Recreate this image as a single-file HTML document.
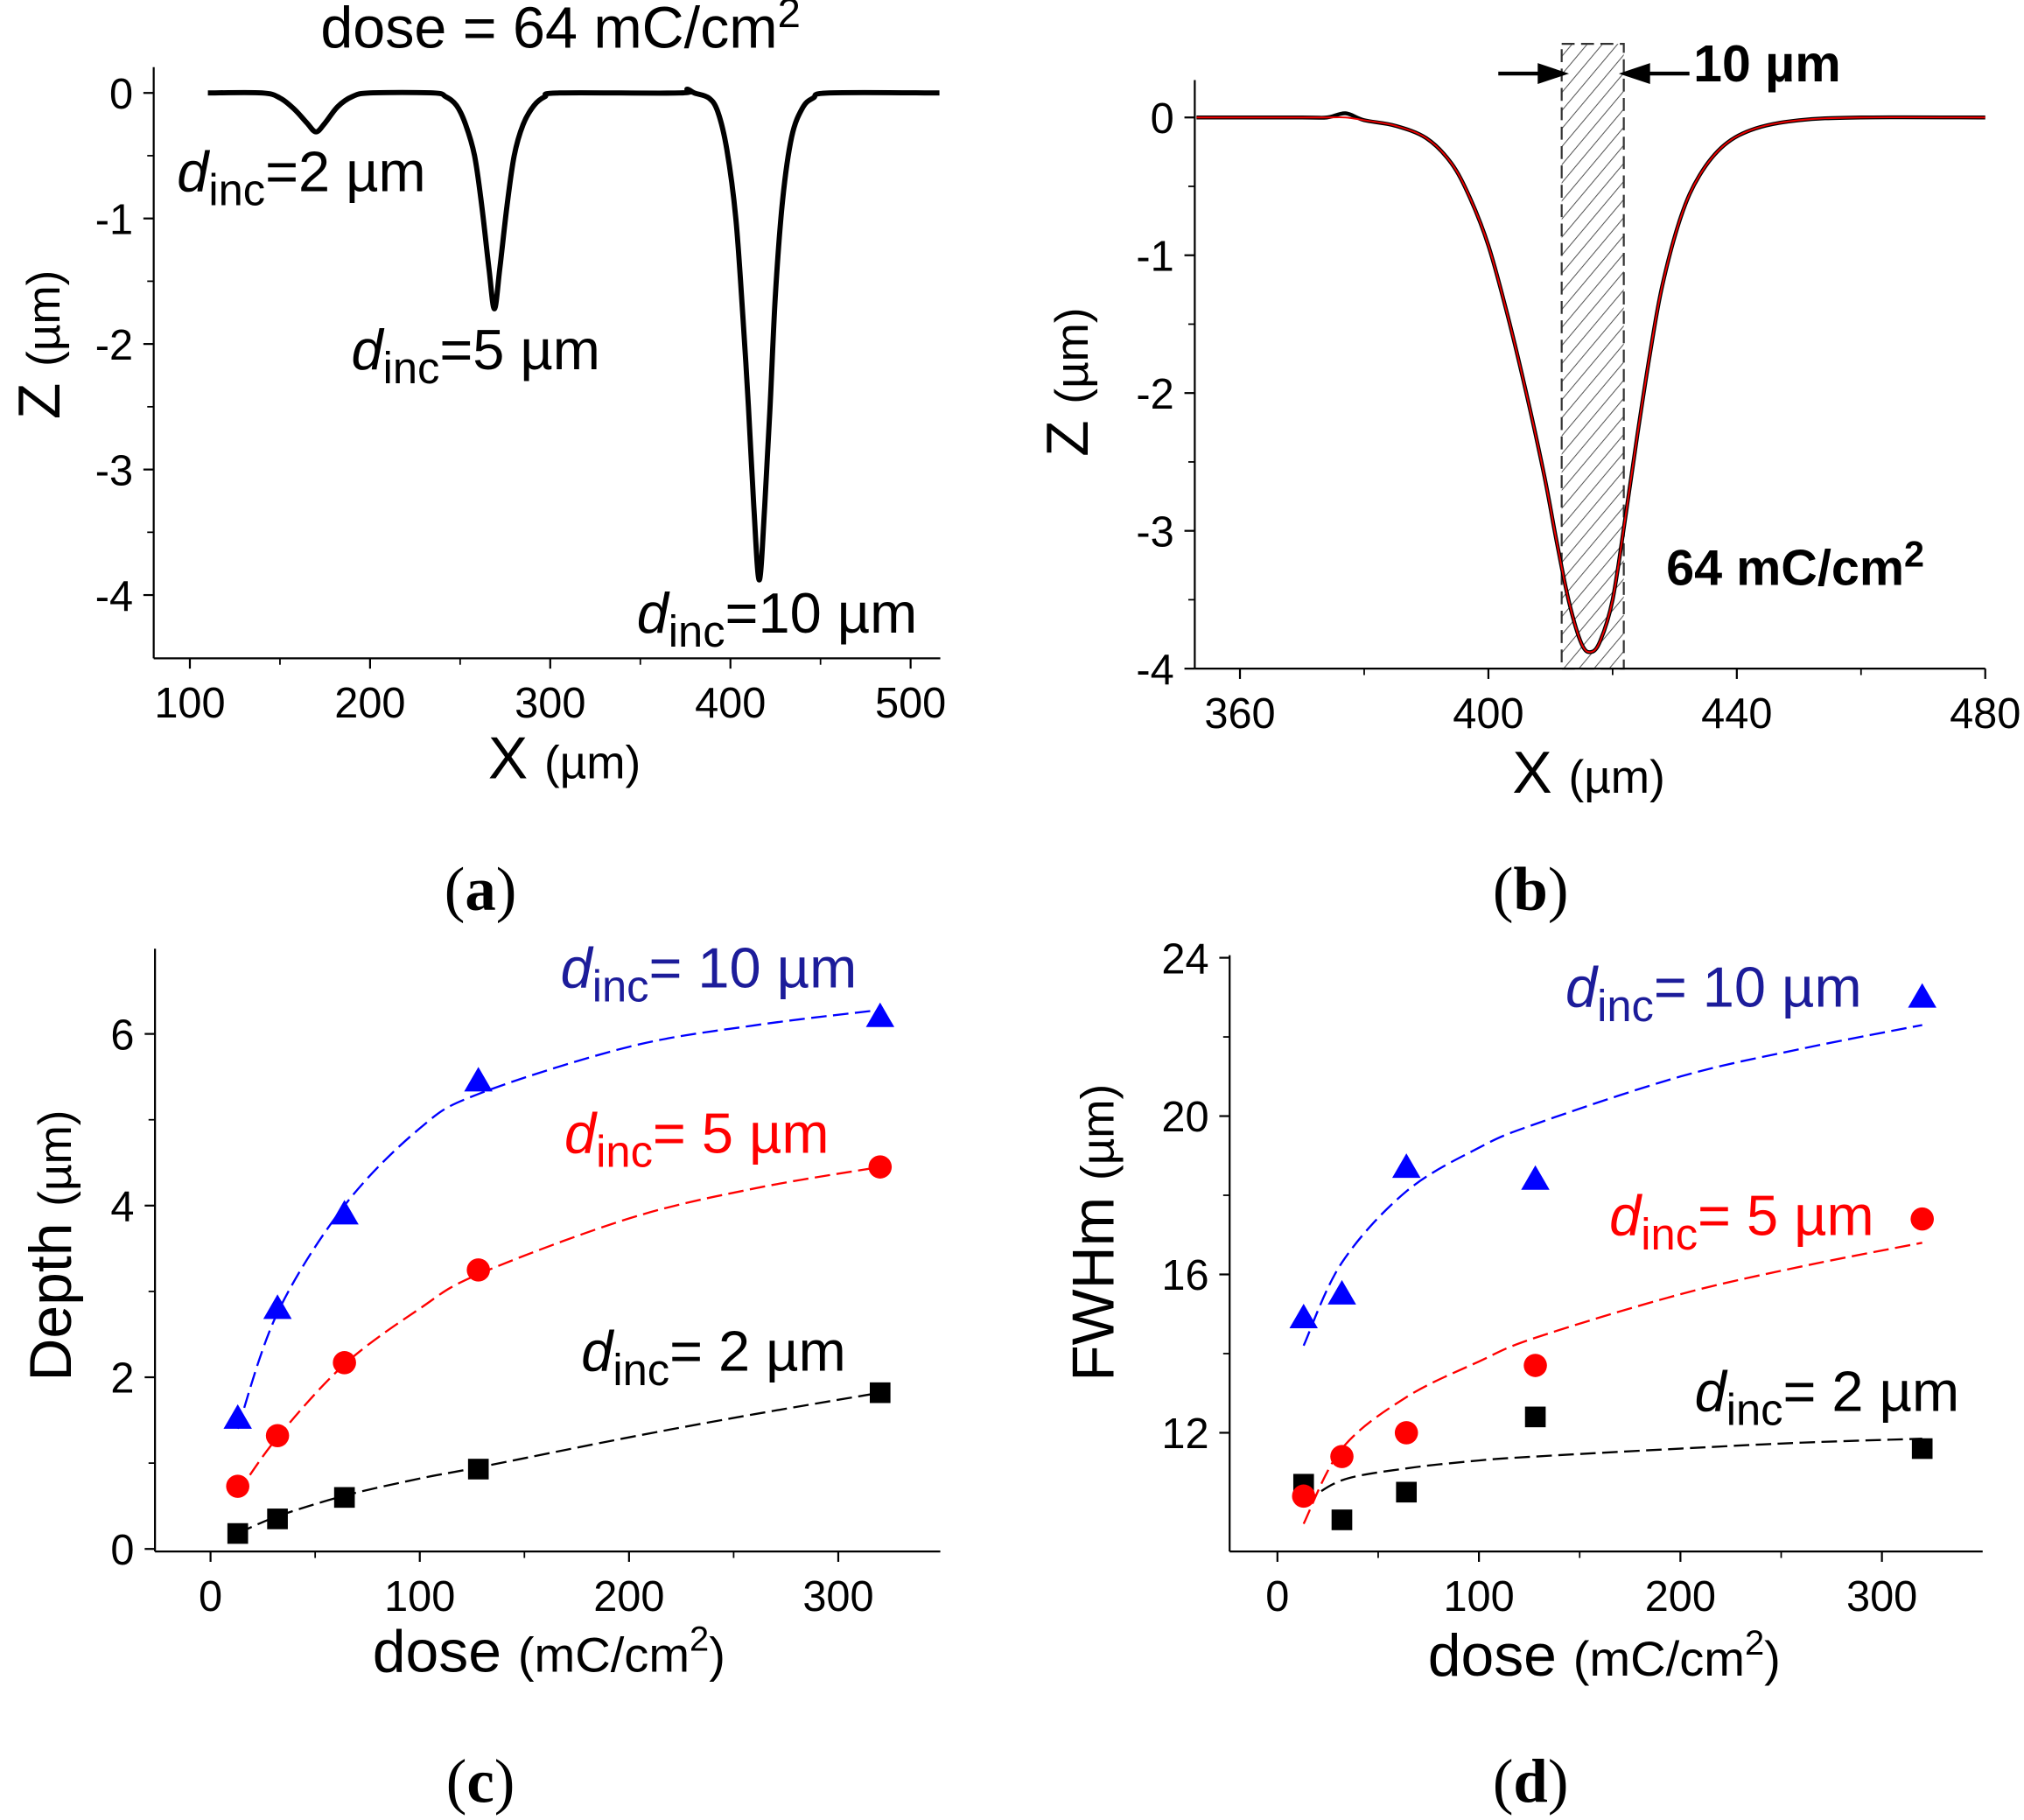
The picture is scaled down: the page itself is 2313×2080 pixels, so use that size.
<!DOCTYPE html>
<html><head><meta charset="utf-8"><style>
html,body{margin:0;padding:0;background:#fff;}
svg{display:block;font-family:"Liberation Sans",Arial,sans-serif;}
</style></head><body>
<svg id="fig" xmlns="http://www.w3.org/2000/svg" width="2313" height="2080" viewBox="0 0 1567 1410" preserveAspectRatio="none">
<defs>
<pattern id="hatch" patternUnits="userSpaceOnUse" width="9" height="9" patternTransform="rotate(40)">
<line x1="0" y1="0" x2="0" y2="9" stroke="#555" stroke-width="1.4"/>
</pattern>
</defs>
</svg>
<script>
// ---------- panel (a) profile ----------
const aX = [110,140,150,158,165,170,175,182,190,200,235,242,248,253,258,262,266,269,272,276,280,285,291,297,305,372,376,380,388,393,398,403,407,410,413,416,419,422,425,429,434,440,446,455,516];
const aZ = [0,0,-0.04,-0.13,-0.24,-0.31,-0.24,-0.11,-0.03,0,0,-0.03,-0.1,-0.25,-0.5,-0.9,-1.4,-1.72,-1.4,-0.9,-0.5,-0.25,-0.1,-0.03,0,0,0.03,0,-0.04,-0.15,-0.45,-1.0,-1.8,-2.5,-3.3,-3.88,-3.3,-2.5,-1.6,-0.85,-0.35,-0.12,-0.04,0,0];
// ---------- panel (b) profile ----------
const bX = [353,370,374,377,380,385,390,394,397,400,403,406,409,411,413,415,416.5,418,420,422,424,426,428,431,434,438,443,450,460,480];
const bZ = [0,0,0,0.03,-0.02,-0.06,-0.15,-0.33,-0.58,-0.93,-1.42,-1.98,-2.6,-3.08,-3.52,-3.82,-3.88,-3.8,-3.5,-2.92,-2.3,-1.72,-1.22,-0.72,-0.42,-0.2,-0.08,-0.02,0,0];
const bFitZ = [0,0,0,0,-0.02,-0.06,-0.15,-0.33,-0.58,-0.93,-1.42,-1.98,-2.6,-3.08,-3.52,-3.82,-3.88,-3.8,-3.5,-2.92,-2.3,-1.72,-1.22,-0.72,-0.42,-0.2,-0.08,-0.02,0,0];
// ---------- panels (c),(d) ----------
const doses = [13,32,64,128,320];
const depth2 = [0.18,0.35,0.6,0.93,1.82];
const depth5 = [0.73,1.32,2.17,3.25,4.45];
const depth10 = [1.52,2.8,3.9,5.45,6.2];
const fitDoses = [13,32,64,100,128,200,260,320];
const depthFit2 = [0.18,0.38,0.62,0.82,0.95,1.3,1.57,1.82];
const depthFit5 = [0.65,1.3,2.15,2.8,3.2,3.85,4.2,4.45];
const depthFit10 = [1.4,2.75,4.0,4.9,5.3,5.85,6.1,6.28];
const fwhm2 = [10.7,9.8,10.5,12.4,11.6];
const fwhm5 = [10.4,11.4,12.0,13.7,17.4];
const fwhm10 = [14.9,15.5,18.7,18.4,23.0];
const fwhmFit2 = [10.2,10.8,11.1,11.3,11.4,11.6,11.75,11.85];
const fwhmFit5 = [9.7,11.6,12.9,13.8,14.4,15.5,16.2,16.8];
const fwhmFit10 = [14.2,16.3,18.1,19.2,19.8,21.0,21.7,22.3];
const aXTicks = [100,200,300,400,500];
const aYTicks = [0,-1,-2,-3,-4];
const bXTicks = [360,400,440,480];
const bYTicks = [0,-1,-2,-3,-4];
const cXTicks = [0,100,200,300];
const cYTicks = [0,2,4,6];
const dXTicks = [0,100,200,300];
const dYTicks = [12,16,20,24];

const svg = document.getElementById('fig');
const NS = 'http://www.w3.org/2000/svg';
function mk(tag, attrs, parent) {
  const el = document.createElementNS(NS, tag);
  for (const k in attrs) el.setAttribute(k, attrs[k]);
  (parent || svg).appendChild(el);
  return el;
}
function scale(d0, d1, p0, p1) { return v => p0 + (v - d0) * (p1 - p0) / (d1 - d0); }

function axes(P, name) {
  const g = mk('g', {});
  
  
  const yl = mk('line', {x1:P.left, y1:P.top, x2:P.left, y2:P.bottom, stroke:'#000', 'stroke-width':1.5}, g);
  
  
  const xl = mk('line', {x1:P.left, y1:P.bottom, x2:P.right, y2:P.bottom, stroke:'#000', 'stroke-width':1.5}, g);
  
  
  P.xt.forEach((v, i) => {
    const x = P.sx(v);
    mk('line', {x1:x, y1:P.bottom, x2:x, y2:P.bottom + 8, stroke:'#000', 'stroke-width':1.5}, g);
    const t = mk('text', {x:x, y:P.bottom + 46, 'font-size':33, 'text-anchor':'middle'}, g);
    t.textContent = v;
    
    
    if (i < P.xt.length - 1) {
      const xm = P.sx((v + P.xt[i+1]) / 2);
      mk('line', {x1:xm, y1:P.bottom, x2:xm, y2:P.bottom + 5, stroke:'#000', 'stroke-width':1.2}, g);
    }
  });
  P.yt.forEach((v, i) => {
    const y = P.sy(v);
    mk('line', {x1:P.left - 8, y1:y, x2:P.left, y2:y, stroke:'#000', 'stroke-width':1.5}, g);
    const t = mk('text', {x:P.left - 16, y:y + 12, 'font-size':33, 'text-anchor':'end'}, g);
    t.textContent = v;
    
    
    if (i < P.yt.length - 1) {
      const ym = P.sy((v + P.yt[i+1]) / 2);
      if (ym < P.bottom) mk('line', {x1:P.left - 5, y1:ym, x2:P.left, y2:ym, stroke:'#000', 'stroke-width':1.2}, g);
    }
  });
}
function smoothPath(xs, ys, sx, sy) {
  const p = xs.map((x, i) => [sx(x), sy(ys[i])]);
  let d = 'M' + p[0][0] + ',' + p[0][1];
  for (let i = 0; i < p.length - 1; i++) {
    const p0 = p[i-1] || p[i], p1 = p[i], p2 = p[i+1], p3 = p[i+2] || p2;
    const c1 = [p1[0] + (p2[0]-p0[0])/6, p1[1] + (p2[1]-p0[1])/6];
    const c2 = [p2[0] - (p3[0]-p1[0])/6, p2[1] - (p3[1]-p1[1])/6];
    d += ' C' + c1.join(',') + ' ' + c2.join(',') + ' ' + p2.join(',');
  }
  return d;
}
function label(x, y, rest, color, size, name) {
  const t = mk('text', {x:x, y:y, 'font-size':size, fill:color});
  t.innerHTML = '<tspan font-style="italic">d</tspan><tspan dy="11" font-size="' + (size*0.78) + '">inc</tspan><tspan dy="-11">' + rest + '</tspan>';
  
  
}
function ytitle(x, y, big, small, name) {
  const t = mk('text', {x:0, y:0, 'font-size':46, 'text-anchor':'middle', transform:'translate(' + x + ',' + y + ') rotate(-90)'});
  t.innerHTML = big + ' <tspan font-size="36">' + small + '</tspan>';
  
  
}
function xtitle(x, y, html, name) {
  const t = mk('text', {x:x, y:y, 'font-size':46, 'text-anchor':'middle'});
  t.innerHTML = html;
  
  
}
function panelLabel(x, y, ch, name) {
  const t = mk('text', {x:x, y:y, 'font-size':48, 'text-anchor':'middle', 'font-family':'"Liberation Serif",serif'});
  t.innerHTML = '(<tspan font-weight="bold">' + ch + '</tspan>)';
  
  
}
const XT = 'X <tspan font-size="36">(µm)</tspan>';
const DT = 'dose <tspan font-size="38">(mC/cm<tspan dy="-16" font-size="27">2</tspan><tspan dy="16">)</tspan></tspan>';

// ===== Panel A =====
const A = {left:119, right:728, top:52, bottom:510, xt:aXTicks, yt:aYTicks};
A.sx = scale(100, 500, 147, 705); A.sy = scale(0, -4, 72, 461);
axes(A, 'panel-a');
const pa = mk('path', {d:smoothPath(aX, aZ, A.sx, A.sy), fill:'none', stroke:'#000', 'stroke-width':4, 'stroke-linejoin':'round'});


const ta = mk('text', {x:434, y:37, 'font-size':45, 'text-anchor':'middle'});
ta.innerHTML = 'dose = 64 mC/cm<tspan dy="-16" font-size="32">2</tspan>';


label(137, 148, '=2 µm', '#000', 44, 'label-dinc-2um-a');
label(272, 286, '=5 µm', '#000', 44, 'label-dinc-5um-a');
label(493, 490, '=10 µm', '#000', 44, 'label-dinc-10um-a');
ytitle(46, 267, 'Z', '(µm)', 'panel-a-y-axis-title');
xtitle(437, 603, XT, 'panel-a-x-axis-title');
panelLabel(372, 705, 'a', 'panel-a-label');

// ===== Panel B =====
const B = {left:925, right:1537, top:62, bottom:518, xt:bXTicks, yt:bYTicks};
B.sx = scale(360, 480, 960, 1537); B.sy = scale(0, -4, 91, 518);
const hr = mk('rect', {x:B.sx(411.8), y:34, width:B.sx(421.8)-B.sx(411.8), height:518-34, fill:'url(#hatch)', stroke:'#333', 'stroke-width':1.5, 'stroke-dasharray':'10,5'});


axes(B, 'panel-b');
const pb = mk('path', {d:smoothPath(bX, bZ, B.sx, B.sy), fill:'none', stroke:'#000', 'stroke-width':3, 'stroke-linejoin':'round'});


const pbf = mk('path', {d:smoothPath(bX, bFitZ, B.sx, B.sy), fill:'none', stroke:'#e00', 'stroke-width':1.3});


const arL = mk('path', {d:'M1160,57 L1196,57 M1210,57 L1192,51 L1192,63 Z', stroke:'#000', 'stroke-width':3, fill:'#000'});


const arR = mk('path', {d:'M1308,57 L1272,57 M1258,57 L1276,51 L1276,63 Z', stroke:'#000', 'stroke-width':3, fill:'#000'});


const tb1 = mk('text', {x:1311, y:63, 'font-size':40, 'font-weight':'bold'});
tb1.textContent = '10 µm';


const tb2 = mk('text', {x:1290, y:453, 'font-size':39, 'font-weight':'bold'});
tb2.innerHTML = '64 mC/cm<tspan dy="-14" font-size="28">2</tspan>';


ytitle(842, 296, 'Z', '(µm)', 'panel-b-y-axis-title');
xtitle(1230, 614, XT, 'panel-b-x-axis-title');
panelLabel(1185, 705, 'b', 'panel-b-label');

// ===== Panel C/D scatter =====
function scatter(P, ys, fit, color, shape, name) {
  const f = mk('path', {d:smoothPath(fitDoses, fit, P.sx, P.sy), fill:'none', stroke:color, 'stroke-width':1.6, 'stroke-dasharray':'12,5'});
  
  
  doses.forEach((d, i) => {
    const x = P.sx(d), y = P.sy(ys[i]);
    let m;
    if (shape === 'sq') m = mk('rect', {x:x-8, y:y-8, width:16, height:16, fill:color});
    else if (shape === 'ci') m = mk('circle', {cx:x, cy:y, r:9, fill:color});
    else m = mk('path', {d:'M' + x + ',' + (y-11) + ' L' + (x+11) + ',' + (y+8) + ' L' + (x-11) + ',' + (y+8) + ' Z', fill:color});
    
    
  });
}
const C = {left:120, right:728, top:735, bottom:1202, xt:cXTicks, yt:cYTicks};
C.sx = scale(0, 300, 163, 649); C.sy = scale(0, 6, 1200, 801);
axes(C, 'panel-c');
scatter(C, depth2, depthFit2, '#000', 'sq', 'depth-2um');
scatter(C, depth5, depthFit5, '#f00', 'ci', 'depth-5um');
scatter(C, depth10, depthFit10, '#00f', 'tr', 'depth-10um');
label(434, 765, '= 10 µm', '#1c1c9a', 44, 'label-dinc-10um-c');
label(437, 893, '= 5 µm', '#f00', 44, 'label-dinc-5um-c');
label(450, 1062, '= 2 µm', '#000', 44, 'label-dinc-2um-c');
ytitle(55, 965, 'Depth', '(µm)', 'panel-c-y-axis-title');
xtitle(425, 1295, DT, 'panel-c-x-axis-title');
panelLabel(372, 1396, 'c', 'panel-c-label');

const D = {left:952, right:1535, top:740, bottom:1202, xt:dXTicks, yt:dYTicks};
D.sx = scale(0, 300, 989, 1457); D.sy = scale(12, 24, 1110, 742);
axes(D, 'panel-d');
scatter(D, fwhm2, fwhmFit2, '#000', 'sq', 'fwhm-2um');
scatter(D, fwhm5, fwhmFit5, '#f00', 'ci', 'fwhm-5um');
scatter(D, fwhm10, fwhmFit10, '#00f', 'tr', 'fwhm-10um');
label(1212, 780, '= 10 µm', '#1c1c9a', 44, 'label-dinc-10um-d');
label(1246, 957, '= 5 µm', '#f00', 44, 'label-dinc-5um-d');
label(1312, 1093, '= 2 µm', '#000', 44, 'label-dinc-2um-d');
ytitle(862, 955, 'FWHm', '(µm)', 'panel-d-y-axis-title');
xtitle(1242, 1298, DT, 'panel-d-x-axis-title');
panelLabel(1185, 1396, 'd', 'panel-d-label');
</script>
</body></html>
